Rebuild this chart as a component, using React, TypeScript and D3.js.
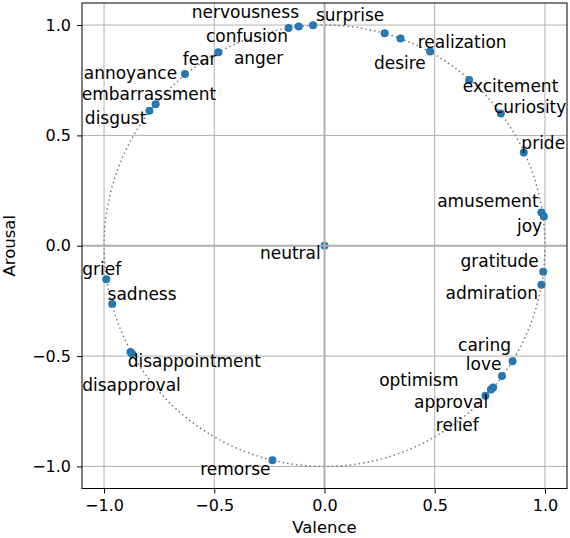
import * as React from "react";
import * as d3 from "d3";

// emotion positions on the valence / arousal circle
const emotions = [
  "nervousness", "confusion", "anger", "fear", "annoyance", "embarrassment", "disgust",
  "surprise", "desire", "realization", "excitement", "curiosity", "pride",
  "amusement", "joy", "neutral", "gratitude", "admiration",
  "caring", "love", "optimism", "approval", "relief",
  "remorse", "grief", "sadness", "disappointment", "disapproval",
];
const valence = [
  -0.117, -0.163, -0.052, -0.481, -0.633, -0.766, -0.794,
  0.273, 0.345, 0.479, 0.656, 0.800, 0.904,
  0.984, 0.995, 0.0, 0.992, 0.984,
  0.853, 0.805, 0.765, 0.755, 0.730,
  -0.236, -0.990, -0.963, -0.880, -0.872,
];
const arousal = [
  0.993, 0.987, 0.999, 0.877, 0.778, 0.641, 0.612,
  0.963, 0.939, 0.880, 0.751, 0.599, 0.422,
  0.151, 0.132, 0.0, -0.118, -0.177,
  -0.523, -0.590, -0.642, -0.651, -0.680,
  -0.972, -0.152, -0.264, -0.481, -0.490,
];
// where each text label sits (start of baseline), in data units
const labelValence = [
  -0.602, -0.538, -0.411, -0.643, -1.092, -1.101, -1.087,
  -0.039, 0.224, 0.423, 0.627, 0.768, 0.893,
  0.511, 0.873, -0.293, 0.617, 0.549,
  0.606, 0.641, 0.248, 0.406, 0.505,
  -0.564, -1.099, -0.984, -0.893, -1.099,
];
const labelArousal = [
  1.033, 0.922, 0.824, 0.819, 0.755, 0.661, 0.552,
  1.020, 0.801, 0.898, 0.696, 0.603, 0.44,
  0.177, 0.063, -0.062, -0.098, -0.242,
  -0.476, -0.564, -0.636, -0.733, -0.84,
  -1.037, -0.133, -0.246, -0.551, -0.659,
];
const tickValues = [-1, -0.5, 0, 0.5, 1];
const tickLabels = ["\u22121.0", "\u22120.5", "0.0", "0.5", "1.0"];

export default function App() {
  const ref = React.useRef<SVGSVGElement>(null);

  React.useEffect(() => {
    const svg = d3.select(ref.current);
    svg.selectAll("*").remove();

    const font = "DejaVu Sans, sans-serif";
    const x = d3.scaleLinear().domain([-1.1, 1.1]).range([82, 567]);
    const y = d3.scaleLinear().domain([-1.1, 1.1]).range([488.5, 3]);
    const [x0, x1] = x.range();
    const [y0, y1] = y.range();

    const g = svg.append("g");

    // grid
    g.selectAll(".vgrid")
      .data(tickValues)
      .enter()
      .append("line")
      .attr("x1", (d) => x(d))
      .attr("x2", (d) => x(d))
      .attr("y1", y0)
      .attr("y2", y1)
      .attr("stroke", "#b0b0b0")
      .attr("stroke-width", 1);
    g.selectAll(".hgrid")
      .data(tickValues)
      .enter()
      .append("line")
      .attr("y1", (d) => y(d))
      .attr("y2", (d) => y(d))
      .attr("x1", x0)
      .attr("x2", x1)
      .attr("stroke", "#b0b0b0")
      .attr("stroke-width", 1);

    // points
    g.selectAll(".pt")
      .data(emotions)
      .enter()
      .append("circle")
      .attr("cx", (_, i) => x(valence[i]))
      .attr("cy", (_, i) => y(arousal[i]))
      .attr("r", 4)
      .attr("fill", "#1f77b4");

    // unit circle
    g.append("ellipse")
      .attr("cx", x(0))
      .attr("cy", y(0))
      .attr("rx", x(1) - x(0))
      .attr("ry", y(0) - y(1))
      .attr("fill", "none")
      .attr("stroke", "#7a7a7a")
      .attr("stroke-width", 1.5)
      .attr("stroke-dasharray", "1.5,3");

    // zero lines
    g.append("line")
      .attr("x1", x0).attr("x2", x1)
      .attr("y1", y(0)).attr("y2", y(0))
      .attr("stroke", "#b0b0b0").attr("stroke-width", 2);
    g.append("line")
      .attr("x1", x(0)).attr("x2", x(0))
      .attr("y1", y0).attr("y2", y1)
      .attr("stroke", "#b0b0b0").attr("stroke-width", 2);

    // labels
    g.selectAll(".lbl")
      .data(emotions)
      .enter()
      .append("text")
      .text((d) => d)
      .attr("x", (_, i) => x(labelValence[i]))
      .attr("y", (_, i) => y(labelArousal[i]))
      .attr("font-family", font)
      .attr("font-size", "17px")
      .attr("fill", "#000");

    // frame
    g.append("rect")
      .attr("x", x0)
      .attr("y", y1)
      .attr("width", x1 - x0)
      .attr("height", y0 - y1)
      .attr("fill", "none")
      .attr("stroke", "#000")
      .attr("stroke-width", 1);

    // axes
    const fmt = (d: d3.NumberValue) => tickLabels[tickValues.indexOf(+d)];
    const xAxis = g
      .append("g")
      .attr("transform", `translate(0,${y0})`)
      .call(d3.axisBottom(x).tickValues(tickValues).tickFormat(fmt).tickSize(5).tickPadding(6));
    const yAxis = g
      .append("g")
      .attr("transform", `translate(${x0},0)`)
      .call(d3.axisLeft(y).tickValues(tickValues).tickFormat(fmt).tickSize(5).tickPadding(6));
    [xAxis, yAxis].forEach((a) => {
      a.select(".domain").remove();
      a.selectAll("line").attr("stroke", "#000");
      a.selectAll("text")
        .attr("font-family", font)
        .attr("font-size", "16px")
        .attr("fill", "#000");
    });

    // axis titles
    svg.append("text")
      .text("Valence")
      .attr("x", x(0))
      .attr("y", 533)
      .attr("text-anchor", "middle")
      .attr("font-family", font)
      .attr("font-size", "16.5px");
    svg.append("text")
      .text("Arousal")
      .attr("transform", `translate(15,${y(0)}) rotate(-90)`)
      .attr("text-anchor", "middle")
      .attr("font-family", font)
      .attr("font-size", "16.5px");
  }, []);

  return (
    <svg
      ref={ref}
      width={570}
      height={538}
      style={{ position: "absolute", left: 0, top: 0, background: "#fff" }}
    />
  );
}
